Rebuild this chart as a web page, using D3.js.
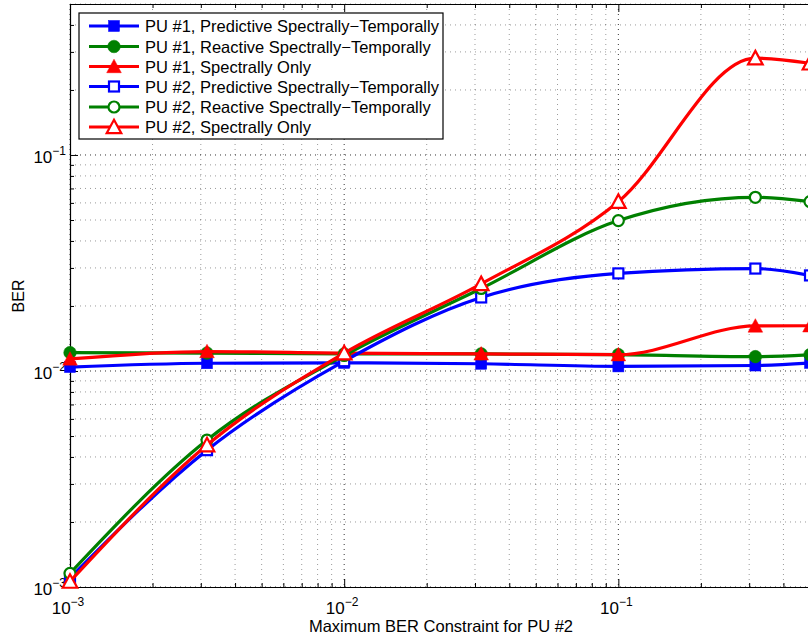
<!DOCTYPE html>
<html><head><meta charset="utf-8">
<script src="https://cdn.jsdelivr.net/npm/d3@7"></script>
<style>
body{margin:0;background:#fff;}
svg{display:block;font-family:"Liberation Sans",Arial,Helvetica,sans-serif;}
</style></head><body>
<svg id="chart" width="808" height="636"></svg>
<script>
const xValues = [0.001, 0.00316, 0.01, 0.0316, 0.1, 0.316, 0.5];
const pu1Predictive = [0.01043, 0.01086, 0.0109, 0.0108, 0.0105, 0.0106, 0.0109];
const pu1Reactive   = [0.01216, 0.0121, 0.0120, 0.0120, 0.0119, 0.01165, 0.0119];
const pu1Spectral   = [0.01137, 0.0123, 0.0121, 0.0120, 0.0119, 0.01616, 0.0162];
const pu2Predictive = [0.00110, 0.0043, 0.0111, 0.0219, 0.0283, 0.0298, 0.0277];
const pu2Reactive   = [0.001157, 0.00479, 0.0118, 0.0241, 0.0497, 0.0637, 0.0608];
const pu2Spectral   = [0.00106, 0.00454, 0.0121, 0.0253, 0.0608, 0.2806, 0.2658];
const seriesNames = [
  "PU #1, Predictive Spectrally\u2212Temporally",
  "PU #1, Reactive Spectrally\u2212Temporally",
  "PU #1, Spectrally Only",
  "PU #2, Predictive Spectrally\u2212Temporally",
  "PU #2, Reactive Spectrally\u2212Temporally",
  "PU #2, Spectrally Only"
];
const xLabel = "Maximum BER Constraint for PU #2";
const yLabel = "BER";
const xTickExps = [-3, -2, -1];
const yTickExps = [-3, -2, -1];

const series = [
  {name: seriesNames[0], values: pu1Predictive, color: "#0000ff", marker: "square", filled: true},
  {name: seriesNames[1], values: pu1Reactive,   color: "#008000", marker: "circle", filled: true},
  {name: seriesNames[2], values: pu1Spectral,   color: "#ff0000", marker: "triangle", filled: true},
  {name: seriesNames[3], values: pu2Predictive, color: "#0000ff", marker: "square", filled: false},
  {name: seriesNames[4], values: pu2Reactive,   color: "#008000", marker: "circle", filled: false},
  {name: seriesNames[5], values: pu2Spectral,   color: "#ff0000", marker: "triangle", filled: false}
];

const svg = d3.select("#chart");
const L = 70, R = 810, T = 4, B = 587;
const x = d3.scaleLog().domain([1e-3, 0.5]).range([L, R]);
const y = d3.scaleLog().domain([1e-3, 0.5]).range([B, T]);

function logTicks(lo, hi){
  const maj=[], min=[];
  for(let e=-3;e<=0;e++){
    for(let m=1;m<=9;m++){
      const v=m*Math.pow(10,e);
      if(v<lo*0.999||v>hi*1.001) continue;
      if(m===1) maj.push(v); else min.push(v);
    }
  }
  return {maj,min};
}
const xt = logTicks(1e-3,0.5), yt = logTicks(1e-3,0.5);

const grid = svg.append("g");
xt.min.forEach(v=>grid.append("line").attr("x1",x(v)).attr("x2",x(v)).attr("y1",T).attr("y2",B)
  .attr("stroke","#000").attr("stroke-opacity",0.4).attr("stroke-dasharray","1,4"));
yt.min.forEach(v=>grid.append("line").attr("y1",y(v)).attr("y2",y(v)).attr("x1",L).attr("x2",R)
  .attr("stroke","#000").attr("stroke-opacity",0.4).attr("stroke-dasharray","1,4"));
xt.maj.forEach(v=>grid.append("line").attr("x1",x(v)).attr("x2",x(v)).attr("y1",T).attr("y2",B)
  .attr("stroke","#000").attr("stroke-opacity",0.8).attr("stroke-dasharray","1,4"));
yt.maj.forEach(v=>grid.append("line").attr("y1",y(v)).attr("y2",y(v)).attr("x1",L).attr("x2",R)
  .attr("stroke","#000").attr("stroke-opacity",0.8).attr("stroke-dasharray","1,4"));

const xAxisB = d3.axisBottom(x).tickValues(xt.maj.concat(xt.min)).tickSizeInner(-4).tickSizeOuter(0).tickFormat("");
const xAxisT = d3.axisTop(x).tickValues(xt.maj.concat(xt.min)).tickSizeInner(-4).tickSizeOuter(0).tickFormat("");
const yAxisL = d3.axisLeft(y).tickValues(yt.maj.concat(yt.min)).tickSizeInner(-4).tickSizeOuter(0).tickFormat("");
const gB = svg.append("g").attr("transform",`translate(0,${B})`).call(xAxisB);
const gT = svg.append("g").attr("transform",`translate(0,${T})`).call(xAxisT);
const gL = svg.append("g").attr("transform",`translate(${L},0)`).call(yAxisL);
[gB,gT,gL].forEach(g=>{g.select(".domain").attr("stroke","#000").attr("stroke-width",1.2);
  g.selectAll(".tick line").attr("stroke","#000");});
gB.selectAll(".tick line").filter(d=>xt.maj.includes(d)).attr("y2",-8);
gT.selectAll(".tick line").filter(d=>xt.maj.includes(d)).attr("y2",8);
gL.selectAll(".tick line").filter(d=>yt.maj.includes(d)).attr("x2",8);

xTickExps.forEach(e=>{
  const t = svg.append("text").attr("x",x(Math.pow(10,e))-2).attr("y",614).attr("text-anchor","middle")
    .attr("font-size",17).attr("fill","#000");
  t.append("tspan").text("10");
  t.append("tspan").attr("dy",-8).attr("font-size",12).text("\u2212"+(-e));
});
yTickExps.forEach(e=>{
  const t = svg.append("text").attr("x",66).attr("y",y(Math.pow(10,e))+8).attr("text-anchor","end")
    .attr("font-size",17).attr("fill","#000");
  t.append("tspan").text("10");
  t.append("tspan").attr("dy",-8).attr("font-size",12).text("\u2212"+(-e));
});
svg.append("text").attr("x",441).attr("y",632).attr("text-anchor","middle").attr("font-size",16.5).text(xLabel);
svg.append("text").attr("transform","translate(24,296) rotate(-90)").attr("text-anchor","middle").attr("font-size",16).text(yLabel);

const line = d3.line().x(d=>x(d[0])).y(d=>y(d[1])).curve(d3.curveMonotoneX);
const plot = svg.append("g");

function drawMarker(g, type, cx, cy, color, filled){
  const fill = filled ? color : "#fff";
  if(type==="square"){
    const h = filled?5.5:5;
    g.append("rect").attr("x",cx-h).attr("y",cy-h).attr("width",2*h).attr("height",2*h)
      .attr("fill",fill).attr("stroke",color).attr("stroke-width",filled?0.5:2.2);
  } else if(type==="circle"){
    g.append("circle").attr("cx",cx).attr("cy",cy).attr("r",filled?6.3:5.5)
      .attr("fill",fill).attr("stroke",color).attr("stroke-width",filled?0.5:2.2);
  } else {
    const s=7.3;
    g.append("path").attr("d",`M${cx},${cy-s}L${cx+s},${cy+s*0.85}L${cx-s},${cy+s*0.85}Z`)
      .attr("fill",fill).attr("stroke",color).attr("stroke-width",filled?0.5:2.2).attr("stroke-linejoin","miter");
  }
}

series.forEach(s=>{
  const pts = xValues.map((xv,i)=>[xv,s.values[i]]);
  plot.append("path").attr("d",line(pts)).attr("fill","none").attr("stroke",s.color).attr("stroke-width",3.2);
  pts.forEach(p=>drawMarker(plot, s.marker, x(p[0]), y(p[1]), s.color, s.filled));
});

const lg = svg.append("g");
lg.append("rect").attr("x",79).attr("y",13).attr("width",364).attr("height",126)
  .attr("fill","#fff").attr("stroke","#000").attr("stroke-width",1.2);
const ly = [26, 46.5, 66.5, 86.5, 107, 127];
series.forEach((s,i)=>{
  lg.append("line").attr("x1",89).attr("x2",139).attr("y1",ly[i]).attr("y2",ly[i]).attr("stroke",s.color).attr("stroke-width",3.2);
  drawMarker(lg, s.marker, 114, ly[i], s.color, s.filled);
  lg.append("text").attr("x",145).attr("y",ly[i]+6).attr("font-size",16.5).attr("fill","#000").text(s.name);
});
</script></body></html>
